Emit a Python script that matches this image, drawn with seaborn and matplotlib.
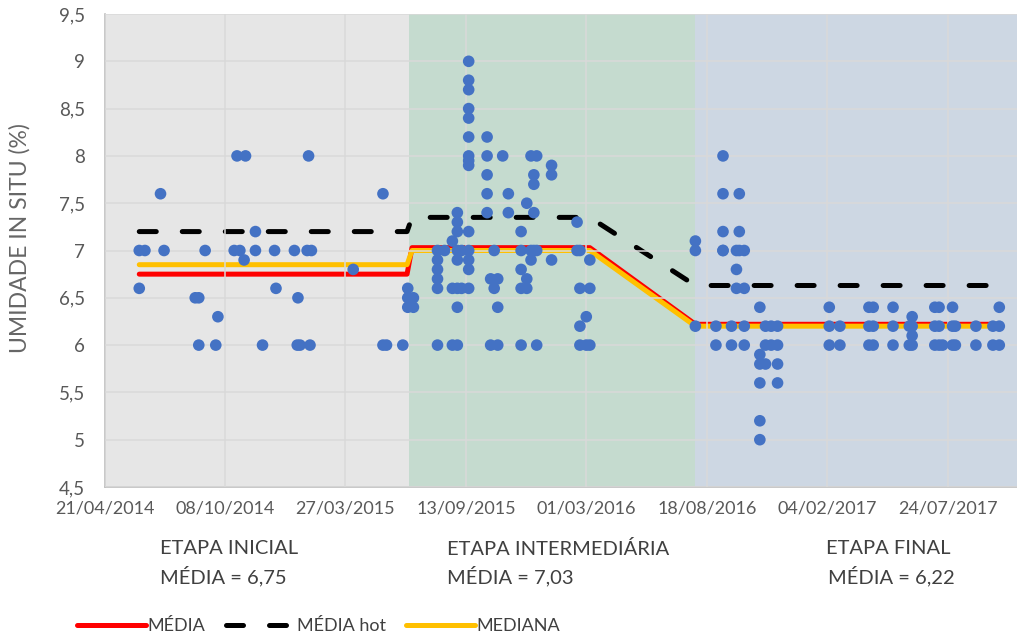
import matplotlib
matplotlib.use("Agg")
import matplotlib.pyplot as plt
import matplotlib.dates as mdates
import pandas as pd
import seaborn as sns

# umidade in situ (%) por data de amostragem
# datas guardadas como dias contados a partir de 21/04/2014
inicio = pd.Timestamp("2014-04-21")

dias_inicial = [49, 49, 57, 79, 84, 128, 133, 133, 142, 157, 160, 183, 187, 191,
                197, 199, 213, 213, 223, 240, 242, 268, 272, 273, 276, 286, 288,
                290, 292, 351, 393, 393, 398, 421]
umid_inicial = [7.0, 6.6, 7.0, 7.6, 7.0, 6.5, 6.5, 6.0, 7.0, 6.0, 6.3, 7.0, 8.0, 7.0,
                6.9, 8.0, 7.2, 7.0, 6.0, 7.0, 6.6, 7.0, 6.0, 6.5, 6.0, 7.0, 8.0,
                6.0, 7.0, 6.8, 7.6, 6.0, 6.0, 6.0]

dias_inter = [428, 428, 428, 436, 436,
              470, 470, 470, 470, 470, 470, 480, 491, 491, 491,
              498, 498, 498, 498, 498, 498, 498, 498, 504, 504,
              514, 514, 514, 514, 514, 514, 514, 514, 514, 514, 514, 514, 514, 514,
              540, 540, 540, 540, 540, 545, 545, 550, 550, 555, 555, 555, 562,
              570, 570, 588, 588, 588, 588, 588, 596, 596, 596, 602, 602, 602,
              606, 606, 606, 606, 610, 610, 610, 631, 631, 631, 667, 667,
              671, 671, 671, 671, 680, 680, 685, 685, 685]
umid_inter = [6.6, 6.5, 6.4, 6.5, 6.4,
              7.0, 6.9, 6.8, 6.7, 6.6, 6.0, 7.0, 7.1, 6.6, 6.0,
              7.4, 7.3, 7.2, 7.0, 6.9, 6.6, 6.4, 6.0, 7.0, 6.6,
              9.0, 8.8, 8.7, 8.5, 8.4, 8.2, 8.0, 7.95, 7.9, 7.2, 7.0, 6.9, 6.8, 6.6,
              8.2, 8.0, 7.8, 7.6, 7.4, 6.7, 6.0, 7.0, 6.6, 6.7, 6.4, 6.0, 8.0,
              7.6, 7.4, 7.2, 7.0, 6.8, 6.6, 6.0, 7.5, 6.7, 6.6, 8.0, 7.0, 6.9,
              7.8, 7.7, 7.4, 7.0, 8.0, 7.0, 6.0, 7.9, 7.8, 6.9, 7.3, 7.0,
              7.0, 6.6, 6.2, 6.0, 6.3, 6.0, 6.9, 6.6, 6.0]

dias_final = [834, 834, 834, 863, 863, 873, 873, 873, 873, 873, 885, 885,
              892, 892, 892, 896, 896, 896, 903, 903, 903, 903,
              925, 925, 925, 925, 925, 925, 933, 933, 933, 941, 941,
              950, 950, 950, 950, 1023, 1023, 1023, 1038, 1038,
              1079, 1079, 1079, 1085, 1085, 1085, 1113, 1113, 1113, 1136, 1136,
              1140, 1140, 1140, 1140, 1172, 1172, 1172, 1178, 1178, 1178, 1183,
              1197, 1197, 1197, 1201, 1201, 1230, 1230, 1254, 1254,
              1263, 1263, 1263]
umid_final = [7.1, 7.0, 6.2, 6.2, 6.0, 8.0, 7.6, 7.2, 7.0, 7.0, 6.2, 6.0,
              7.0, 6.8, 6.6, 7.6, 7.2, 7.0, 7.0, 6.6, 6.2, 6.0,
              6.4, 5.9, 5.8, 5.6, 5.2, 5.0, 6.2, 6.0, 5.8, 6.2, 6.0,
              6.2, 6.0, 5.8, 5.6, 6.4, 6.2, 6.0, 6.2, 6.0,
              6.4, 6.2, 6.0, 6.4, 6.2, 6.0, 6.4, 6.2, 6.0, 6.2, 6.0,
              6.3, 6.2, 6.1, 6.0, 6.4, 6.2, 6.0, 6.4, 6.2, 6.0, 6.0,
              6.4, 6.2, 6.0, 6.2, 6.0, 6.2, 6.0, 6.2, 6.0,
              6.4, 6.2, 6.0]

# linhas de media / media hot / mediana por etapa
dias_linha = [49, 427, 434, 685, 834, 1263]
media = [6.75, 6.75, 7.03, 7.03, 6.22, 6.22]
media_hot = [7.2, 7.2, 7.35, 7.35, 6.63, 6.63]
mediana = [6.85, 6.85, 7.0, 7.0, 6.2, 6.2]

# limites das etapas (dias)
etapas = [0, 430, 833, 1288]
cores_etapa = ["#e6e6e6", "#c5dbcf", "#cdd7e3"]


def to_date(d):
    return [inicio + pd.Timedelta(days=int(x)) for x in d]


pontos = pd.DataFrame({
    "data": to_date(dias_inicial + dias_inter + dias_final),
    "umidade": umid_inicial + umid_inter + umid_final,
})
linhas = pd.DataFrame({"data": to_date(dias_linha), "media": media,
                       "hot": media_hot, "mediana": mediana})

sns.set_style("white")
plt.rcParams["font.family"] = ["Lato", "DejaVu Sans"]

fig = plt.figure(figsize=(10.17, 6.37), dpi=100)
ax = fig.add_axes([0.1028, 0.2355, 0.8972, 0.7425])

for i in range(3):
    ax.axvspan(inicio + pd.Timedelta(days=etapas[i]),
               inicio + pd.Timedelta(days=etapas[i + 1]),
               color=cores_etapa[i], lw=0, zorder=0)

sns.lineplot(data=linhas, x="data", y="media", color="#ff0000", lw=3.6,
             estimator=None, sort=False, ax=ax, zorder=2)
sns.lineplot(data=linhas, x="data", y="hot", color="black", lw=3.6,
             estimator=None, sort=False, ax=ax, zorder=2)
sns.lineplot(data=linhas, x="data", y="mediana", color="#ffc000", lw=3.6,
             estimator=None, sort=False, ax=ax, zorder=2)
l_media, l_hot, l_mediana = ax.lines[-3:]
l_hot.set_dashes([3.4, 5.2])
l_hot.set_dash_capstyle("round")
# mediana fica por cima da media (ordem das series)
l_media.set_zorder(2)
l_hot.set_zorder(2.2)
l_mediana.set_zorder(2.1)

sns.scatterplot(data=pontos, x="data", y="umidade", color="#4472c4", s=70,
                edgecolor="none", ax=ax, zorder=4)

ax.set_xlim(inicio, inicio + pd.Timedelta(days=etapas[-1]))
ax.set_ylim(4.5, 9.5)
ax.set_xticks([inicio + pd.Timedelta(days=170 * k) for k in range(8)])
ax.xaxis.set_major_formatter(mdates.DateFormatter("%d/%m/%Y"))
yt = [4.5 + 0.5 * k for k in range(11)]
ax.set_yticks(yt)
ax.set_yticklabels([("%g" % v).replace(".", ",") for v in yt])

ax.grid(True, color="#d9d9d9", lw=1.1, zorder=1)
ax.set_axisbelow(False)
for g in ax.get_xgridlines() + ax.get_ygridlines():
    g.set_zorder(1)
ax.tick_params(length=0, labelsize=13, colors="#595959")
ax.tick_params(axis="y", labelsize=13.5, pad=14)
ax.tick_params(axis="x", pad=10)
for s in ["top", "right"]:
    ax.spines[s].set_visible(False)
for s in ["left", "bottom"]:
    ax.spines[s].set_color("#bfbfbf")
    ax.spines[s].set_linewidth(1.2)

ax.set_xlabel("")
ax.set_ylabel("UMIDADE IN SITU (%)", fontsize=16.5, color="#666666")
ax.yaxis.set_label_coords(-0.081, 0.527)

txt = dict(fontsize=14.5, color="#404040", va="center", ha="left")
fig.text(160 / 1017, 1 - 549 / 637, "ETAPA INICIAL", **txt)
fig.text(160 / 1017, 1 - 576 / 637, "MÉDIA = 6,75", **txt)
fig.text(447 / 1017, 1 - 549 / 637, "ETAPA INTERMEDIÁRIA", **txt)
fig.text(447 / 1017, 1 - 576 / 637, "MÉDIA = 7,03", **txt)
fig.text(826 / 1017, 1 - 549 / 637, "ETAPA FINAL", **txt)
fig.text(828 / 1017, 1 - 576 / 637, "MÉDIA = 6,22", **txt)

fig.legend([l_media, l_hot, l_mediana], ["MÉDIA", "MÉDIA hot", "MEDIANA"],
           loc="center left", bbox_to_anchor=(61 / 1017, 1 - 626 / 637),
           ncol=3, frameon=False, fontsize=13, handlelength=3.8,
           handletextpad=0.1, columnspacing=1.15, labelcolor="#404040")

fig.savefig("out.png", dpi=100)
